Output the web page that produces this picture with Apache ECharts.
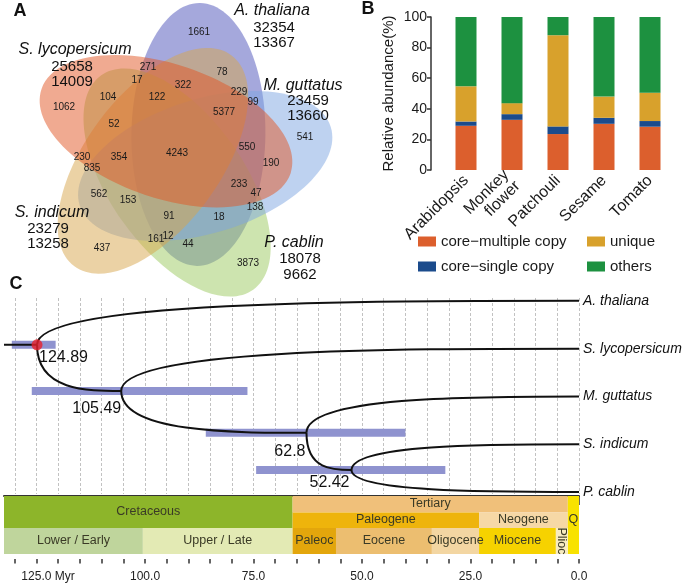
<!DOCTYPE html>
<html><head><meta charset="utf-8">
<script src="https://cdn.jsdelivr.net/npm/echarts@6/dist/echarts.min.js"></script>
<style>html,body{margin:0;padding:0;background:#fff}#main{width:685px;height:586px}</style>
</head><body><div id="main"></div>
<script>
// ================= DATA =================
// Panel B : stacked bars (%)
const barCategories = ['Arabidopsis', 'Monkey\nflower', 'Patchouli', 'Sesame', 'Tomato'];
const coreMultiple = [28.9, 32.8, 23.5, 30.2, 28.3];
const coreSingle   = [2.8, 3.7, 5.0, 3.9, 3.7];
const uniqueGenes  = [23.0, 7.2, 59.6, 13.9, 18.5];
const otherGenes   = [45.3, 56.3, 11.9, 52.0, 49.5];
const seriesNames  = ['core\u2212multiple copy', 'core\u2212single copy', 'unique', 'others'];

// Panel A : Venn
const vennSets     = ['A. thaliana', 'M. guttatus', 'P. cablin', 'S. indicum', 'S. lycopersicum'];
const vennGenes    = [32354, 23459, 18078, 23279, 25658];
const vennFamilies = [13367, 13660, 9662, 13258, 14009];
const vennCounts   = [1661, 271, 78, 17, 322, 104, 122, 229, 99, 1062, 5377, 52, 550, 541, 4243,
                      230, 354, 190, 835, 233, 47, 562, 153, 138, 91, 18, 161, 12, 44, 437, 3873];

// Panel C : time tree
const leafNames = ['A. thaliana', 'S. lycopersicum', 'M. guttatus', 'S. indicum', 'P. cablin'];
const nodeAges  = [124.89, 105.49, 62.8, 52.42];
const hpdLow    = [120.6, 76.4, 40.0, 30.8];
const hpdHigh   = [130.7, 126.1, 86.0, 74.4];
const stemStart = 132.5;
const majorTicks = [0, 25, 50, 75, 100, 125];
const minorTicks = [0,5,10,15,20,25,30,35,40,45,50,55,60,65,70,75,80,85,90,95,100,105,110,115,120,125,130];
const geoNames = ['Cretaceous','Lower / Early','Upper / Late','Tertiary','Paleogene','Neogene','Q','Paleoc','Eocene','Oligocene','Miocene','Plioc'];
const geoStart = [145, 145, 100.5, 66, 66, 23.03, 2.58, 66, 56, 33.9, 23.03, 5.33];
const geoEnd   = [66, 100.5, 66, 2.58, 23.03, 2.58, 0, 56, 33.9, 23.03, 5.33, 2.58];

// ================= LAYOUT / STYLE =================
const vennLabelXY = [[199,32],[148,67],[222,72],[137,80],[183,85],[108,97],[157,97],[239,92],[253,102],[64,107],
  [224,112],[114,124],[247,147],[305,137],[177,153],[82,157],[119,157],[271,163],[92,168],[239,184],[256,193],
  [99,194],[128,200],[255,207],[169,216],[219,217],[156,239],[168,236],[188,244],[102,248],[248,263]];
// ellipses (drawing order): cx, cy, rx, ry, rotation(deg), fill
const vennShapes = [
  [198.4,134.4,131.5,67,-90.7,'rgba(75,81,185,0.5)'],    // A. thaliana
  [177.2,182.5,131.5,67,-54.7,'rgba(155,201,95,0.5)'],   // P. cablin
  [205.2,166.1,131.5,67,17.3,'rgba(125,165,225,0.5)'],   // M. guttatus
  [153.0,160.9,131.5,67,53.3,'rgba(215,165,75,0.5)'],    // S. indicum
  [166.1,131.2,131.5,67,-18.7,'rgba(225,85,35,0.5)']     // S. lycopersicum
];
// set label anchor [nameX, nameY, numX, numY1, numY2]
const vennSetLabelXY = [
  [272,11,274,28,43],
  [303,86,308,101,116],
  [294,243,300,259,275],
  [52,213,48,229,244],
  [75,50,72,67,82]
];
const nodeRows = [0.92, 1.885, 2.76, 3.54];
const nodeLabelOffset = [[2,13,'left'],[0,18,'right'],[-1,19,'right'],[-2,12,'right']];
const geoRows = [[0,32],[32,58],[32,58],[0,16.5],[16.5,32],[16.5,32],[0,58],[32,58],[32,58],[32,58],[32,58],[32,58]];
const geoTextY = [16,45,45,8,24,24,24,45,45,45,45,45];
const geoColors = ['#8db52a','#bfd59c','#e3eab4','#f0c07a','#eeb40c','#f6d8a6','#f8e200','#e3a60c','#ecbe70','#f3d6a2','#f6d200','#f8ecc0'];
const barColors = ['#dc5f2d','#1b4b8c','#d8a12c','#1d9140'];
const FONT = '"Liberation Sans", Arial, Helvetica, sans-serif';

// ================= BUILD =================
const nodePt = i => [nodeAges[i], nodeRows[i]];
const leafPt = j => [0, j];
const edgeData = [
  [stemStart, nodeRows[0], nodeAges[0], nodeRows[0], 1],
  [...nodePt(0), ...leafPt(0), 0],
  [...nodePt(0), ...nodePt(1), 0],
  [...nodePt(1), ...leafPt(1), 0],
  [...nodePt(1), ...nodePt(2), 0],
  [...nodePt(2), ...leafPt(2), 0],
  [...nodePt(2), ...nodePt(3), 0],
  [...nodePt(3), ...leafPt(3), 0],
  [...nodePt(3), ...leafPt(4), 0]
];
const hpdData = nodeAges.map((a, i) => [hpdHigh[i], hpdLow[i], nodeRows[i]]);
const nodeData = nodeAges.map((a, i) => [a, nodeRows[i]]);
const leafData = leafNames.map((n, j) => [0, j]);
const geoData = geoNames.map((n, i) => [geoStart[i], geoEnd[i], geoRows[i][0], geoRows[i][1]]);

const graphics = [];
vennShapes.forEach(s => graphics.push({type:'ellipse', x:s[0], y:s[1], rotation:s[4]*Math.PI/180,
  shape:{cx:0, cy:0, rx:s[2], ry:s[3]}, style:{fill:s[5]}, z:1}));
vennCounts.forEach((c, i) => graphics.push({type:'text', x:vennLabelXY[i][0], y:vennLabelXY[i][1], z:5,
  style:{text:String(c), fontSize:10, fontFamily:FONT, fill:'#1a1a1a', align:'center', verticalAlign:'middle'}}));
vennSets.forEach((n, i) => {
  const L = vennSetLabelXY[i];
  graphics.push({type:'text', x:L[0], y:L[1], z:5, style:{text:n, fontSize:16, fontStyle:'italic', fontFamily:FONT, fill:'#111', align:'center', verticalAlign:'middle'}});
  graphics.push({type:'text', x:L[2], y:L[3], z:5, style:{text:String(vennGenes[i]), fontSize:15, fontFamily:FONT, fill:'#111', align:'center', verticalAlign:'middle'}});
  graphics.push({type:'text', x:L[2], y:L[4], z:5, style:{text:String(vennFamilies[i]), fontSize:15, fontFamily:FONT, fill:'#111', align:'center', verticalAlign:'middle'}});
});
[['A',20,11],['B',368,9],['C',16,284]].forEach(p => graphics.push({type:'text', x:p[1], y:p[2], z:5,
  style:{text:p[0], fontSize:18, fontWeight:'bold', fontFamily:FONT, fill:'#111', align:'center', verticalAlign:'middle'}}));

const barSeries = [coreMultiple, coreSingle, uniqueGenes, otherGenes].map((d, i) => ({
  type:'bar', name:seriesNames[i], stack:'total', data:d, barWidth:21, xAxisIndex:0, yAxisIndex:0,
  itemStyle:{color:barColors[i]}
}));

const option = {
  animation:false,
  backgroundColor:'#fff',
  textStyle:{fontFamily:FONT},
  grid:[
    {left:443, top:17, width:230, height:153},
    {left:4, top:298, width:575, height:196},
    {left:4, top:496, width:575, height:63}
  ],
  legend:[
    {left:413, top:229, orient:'vertical', itemGap:10, itemWidth:18, itemHeight:10, icon:'rect',
     data:[seriesNames[0], seriesNames[1]], textStyle:{fontSize:15, color:'#1a1a1a', fontFamily:FONT}},
    {left:582, top:229, orient:'vertical', itemGap:10, itemWidth:18, itemHeight:10, icon:'rect',
     data:[seriesNames[2], seriesNames[3]], textStyle:{fontSize:15, color:'#1a1a1a', fontFamily:FONT}}
  ],
  xAxis:[
    {gridIndex:0, type:'category', data:barCategories, axisLine:{show:false}, axisTick:{show:false},
     axisLabel:{rotate:45, interval:0, fontSize:16, color:'#1a1a1a', margin:8, fontFamily:FONT}},
    {gridIndex:1, type:'value', min:0, max:132.5, interval:5, inverse:true,
     axisLine:{show:false}, axisTick:{show:false}, axisLabel:{show:false},
     splitLine:{show:true, showMaxLine:false, lineStyle:{color:'#c2c2c2', type:[3,2], width:1}}},
    {gridIndex:2, type:'value', min:0, max:132.5, interval:25, inverse:true, position:'bottom',
     axisLine:{show:true, lineStyle:{color:'#333', width:2}},
     axisTick:{show:true, length:9, customValues:majorTicks, lineStyle:{color:'#333', width:1.5}},
     axisLabel:{customValues:majorTicks, fontSize:12, color:'#222', margin:12, fontFamily:FONT,
       formatter:v => (v % 25 !== 0) ? '' : (v === 125 ? '{p|}125.0 Myr' : v.toFixed(1)),
       rich:{p:{width:23}}},
     splitLine:{show:false}},
    {gridIndex:2, type:'value', min:0, max:132.5, interval:5, inverse:true, position:'bottom',
     axisLine:{show:false}, axisTick:{show:true, length:4.5, customValues:minorTicks, lineStyle:{color:'#333', width:1.5}},
     axisLabel:{show:false}, splitLine:{show:false}}
  ],
  yAxis:[
    {gridIndex:0, type:'value', min:0, max:100, interval:20, offset:12,
     axisLine:{show:true, lineStyle:{color:'#333', width:1.5}},
     axisTick:{show:true, length:4, lineStyle:{color:'#333', width:1.5}},
     axisLabel:{fontSize:14, color:'#1a1a1a', margin:4, fontFamily:FONT}, splitLine:{show:false},
     name:'Relative abundance(%)', nameLocation:'middle', nameGap:35,
     nameTextStyle:{fontSize:15, color:'#1a1a1a', fontFamily:FONT}},
    {gridIndex:1, type:'value', min:-0.06, max:4.04, inverse:true, show:false},
    {gridIndex:2, type:'value', min:0, max:63, inverse:true, show:false}
  ],
  graphic:graphics,
  series:[
    ...barSeries,
    {type:'custom', xAxisIndex:1, yAxisIndex:1, z:2, data:hpdData, encode:{x:[0,1], y:2},
     renderItem:(params, api) => {
       const a = api.coord([api.value(0), api.value(2)]);
       const b = api.coord([api.value(1), api.value(2)]);
       return {type:'rect', shape:{x:Math.min(a[0],b[0]), y:a[1]-4, width:Math.abs(b[0]-a[0]), height:8},
               style:{fill:'#8f93cf'}};
     }},
    {type:'custom', xAxisIndex:1, yAxisIndex:1, z:3, data:edgeData, encode:{x:[0,2], y:[1,3]},
     renderItem:(params, api) => {
       const p = api.coord([api.value(0), api.value(1)]);
       const c = api.coord([api.value(2), api.value(3)]);
       if (api.value(4) === 1) {
         return {type:'line', shape:{x1:p[0], y1:p[1], x2:c[0], y2:c[1]}, style:{stroke:'#111', lineWidth:2}};
       }
       return {type:'bezierCurve', shape:{x1:p[0], y1:p[1], cpx1:p[0], cpy1:c[1],
               cpx2:p[0] + 0.6*(c[0]-p[0]), cpy2:c[1], x2:c[0], y2:c[1]},
               style:{stroke:'#111', lineWidth:2, fill:null}};
     }},
    {type:'custom', xAxisIndex:1, yAxisIndex:1, z:4, data:nodeData, encode:{x:0, y:1},
     renderItem:(params, api) => {
       const p = api.coord([api.value(0), api.value(1)]);
       const o = nodeLabelOffset[params.dataIndex];
       return {type:'text', x:p[0]+o[0], y:p[1]+o[1], style:{text:String(nodeAges[params.dataIndex]),
               fontSize:16, fontFamily:FONT, fill:'#111', align:o[2], verticalAlign:'middle'}};
     }},
    {type:'custom', xAxisIndex:1, yAxisIndex:1, z:4, data:leafData, encode:{x:0, y:1},
     renderItem:(params, api) => {
       const p = api.coord([api.value(0), api.value(1)]);
       return {type:'text', x:p[0]+4, y:p[1], style:{text:leafNames[params.dataIndex], fontSize:14,
               fontStyle:'italic', fontFamily:FONT, fill:'#111', align:'left', verticalAlign:'middle'}};
     }},
    {type:'scatter', xAxisIndex:1, yAxisIndex:1, z:5, data:[nodeData[0]], symbolSize:11,
     itemStyle:{color:'#e8202a'}, silent:true},
    {type:'custom', xAxisIndex:2, yAxisIndex:2, z:2, data:geoData, encode:{x:[0,1], y:[2,3]},
     renderItem:(params, api) => {
       const i = params.dataIndex, cs = params.coordSys;
       const a = api.coord([api.value(0), api.value(2)]);
       const b = api.coord([api.value(1), api.value(3)]);
       const x1 = Math.max(cs.x, Math.min(a[0], b[0]));
       const x2 = Math.min(cs.x + cs.width, Math.max(a[0], b[0]));
       const ty = api.coord([0, geoTextY[i]])[1];
       const vertical = geoNames[i] === 'Plioc';
       return {type:'group', children:[
         {type:'rect', shape:{x:x1, y:a[1], width:x2-x1, height:b[1]-a[1]}, style:{fill:geoColors[i]}},
         {type:'text', x:(x1+x2)/2, y:ty, rotation:vertical ? -Math.PI/2 : 0, z2:10,
          style:{text:geoNames[i], fontSize:12.5, fontFamily:FONT, fill:'#3a3a26', align:'center', verticalAlign:'middle'}}
       ]};
     }}
  ]
};
const chart = echarts.init(document.getElementById('main'), null, {renderer:'canvas', width:685, height:586});
chart.setOption(option);
</script>
</body></html>
